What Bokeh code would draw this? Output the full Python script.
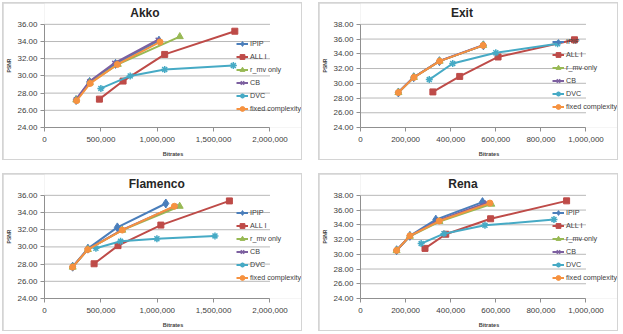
from bokeh.plotting import figure
from bokeh.layouts import row, column
from bokeh.models import FixedTicker, NumeralTickFormatter, Legend, LegendItem, Range1d, Label
from bokeh.embed import file_html
from bokeh.resources import INLINE

# Series shown in every panel
series_names = ["IPIP", "ALL I", "r_mv only", "CB", "DVC", "fixed complexity"]
series_colors = ["#4A7EBB", "#BE4B48", "#98B954", "#7D60A0", "#46AAC5", "#F69240"]
series_markers = ["diamond", "square", "triangle", "x", "asterisk", "circle"]
marker_sizes = [9, 6, 7, 6, 7, 6]

# Akko
akko_ipip_x = [280000, 400000, 630000, 1015000]
akko_ipip_y = [27.2, 29.3, 31.4, 34.1]
akko_alli_x = [487000, 697000, 1066000, 1688000]
akko_alli_y = [27.3, 29.4, 32.5, 35.2]
akko_rmv_x = [282000, 402000, 650000, 1200000]
akko_rmv_y = [27.2, 29.2, 31.35, 34.57]
akko_cb_x = [278000, 398000, 620000, 1005000]
akko_cb_y = [27.25, 29.35, 31.5, 34.2]
akko_dvc_x = [500000, 760000, 1066000, 1675000]
akko_dvc_y = [28.55, 30.0, 30.75, 31.2]
akko_fixed_x = [285000, 405000, 646000, 1025000]
akko_fixed_y = [27.12, 29.13, 31.33, 33.95]

# Exit
exit_ipip_x = [168000, 236000, 350000, 545000]
exit_ipip_y = [28.75, 30.82, 33.0, 35.15]
exit_alli_x = [321000, 440000, 610000, 949000]
exit_alli_y = [28.83, 30.93, 33.57, 35.9]
exit_rmv_x = [168000, 237000, 351000, 544000]
exit_rmv_y = [28.74, 30.8, 33.0, 35.14]
exit_cb_x = [167000, 236000, 350000, 543000]
exit_cb_y = [28.76, 30.81, 33.02, 35.16]
exit_dvc_x = [305000, 409000, 600000, 874000]
exit_dvc_y = [30.5, 32.68, 34.15, 35.36]
exit_fixed_x = [168000, 237000, 351000, 544000]
exit_fixed_y = [28.74, 30.8, 33.0, 35.14]

# Flamenco
flam_ipip_x = [250000, 385000, 646000, 1076000]
flam_ipip_y = [27.7, 29.8, 32.27, 35.05]
flam_alli_x = [440000, 652000, 1032000, 1640000]
flam_alli_y = [28.04, 30.15, 32.54, 35.35]
flam_rmv_x = [250000, 385000, 690000, 1199000]
flam_rmv_y = [27.65, 29.7, 31.95, 34.73]
flam_cb_x = [249000, 384000, 688000, 1160000]
flam_cb_y = [27.66, 29.72, 31.98, 34.75]
flam_dvc_x = [456000, 675000, 997000, 1512000]
flam_dvc_y = [29.85, 30.65, 30.95, 31.28]
flam_fixed_x = [249000, 383000, 690000, 1152000]
flam_fixed_y = [27.65, 29.69, 31.96, 34.73]

# Rena
rena_ipip_x = [160000, 219000, 334000, 541000]
rena_ipip_y = [30.55, 32.5, 34.7, 37.08]
rena_alli_x = [286000, 378000, 577000, 914000]
rena_alli_y = [30.8, 32.72, 34.82, 37.25]
rena_rmv_x = [160000, 219000, 350000, 580000]
rena_rmv_y = [30.5, 32.45, 34.45, 36.8]
rena_cb_x = [160000, 219000, 345000, 560000]
rena_cb_y = [30.52, 32.48, 34.6, 37.0]
rena_dvc_x = [269000, 370000, 552000, 858000]
rena_dvc_y = [31.45, 32.8, 33.93, 34.72]
rena_fixed_x = [160000, 219000, 349000, 574000]
rena_fixed_y = [30.53, 32.5, 34.51, 36.95]

ticks_x_2m = [0, 500000, 1000000, 1500000, 2000000]
ticks_x_1m = [0, 200000, 400000, 600000, 800000, 1000000]
ticks_y_36 = [24, 26, 28, 30, 32, 34, 36]
ticks_y_38 = [24, 26, 28, 30, 32, 34, 36, 38]

FONT = "Liberation Sans"
TEXT = "#404040"
FIG_W, FIG_H = 298, 156      # inside the 1px grey chart border
BORDER_L, BORDER_B = 37, 31
AXIS_W, AXIS_H = 229, 104    # pixel size of the plotted data area
TOP_GAP = 21                 # space above the data area that holds the chart title


def make_panel(title, title_cx, xs, ys, xticks, yticks, legend_y):
    frame_w = FIG_W - BORDER_L
    frame_h = FIG_H - BORDER_B
    x_end = xticks[-1] * frame_w / AXIS_W
    y_span = yticks[-1] - yticks[0]
    y_end = yticks[0] + y_span * frame_h / AXIS_H
    p = figure(width=FIG_W, height=FIG_H, output_backend="svg", toolbar_location=None,
               x_range=Range1d(xticks[0], x_end), y_range=Range1d(yticks[0], y_end),
               min_border_left=BORDER_L, min_border_right=0,
               min_border_top=0, min_border_bottom=BORDER_B, margin=(1, 1, 1, 1))
    p.outline_line_color = None
    p.background_fill_color = "white"
    p.border_fill_color = "white"

    # chart title, centred over the plot area
    p.add_layout(Label(x=xticks[-1] * title_cx / AXIS_W,
                       y=yticks[-1] + y_span * (TOP_GAP - 10) / AXIS_H,
                       text=title, text_align="center", text_baseline="middle",
                       text_font=FONT, text_font_size="12px", text_font_style="bold",
                       text_color="#262626"))

    # horizontal gridlines only across the plotted x span
    p.xgrid.grid_line_color = None
    p.ygrid.grid_line_color = None
    p.segment(x0=[xticks[0]] * len(yticks), y0=yticks, x1=[xticks[-1]] * len(yticks), y1=yticks,
              line_color="#b8b8b8", line_width=1)

    p.xaxis.ticker = FixedTicker(ticks=xticks)
    p.yaxis.ticker = FixedTicker(ticks=yticks)
    p.xaxis.bounds = (xticks[0], xticks[-1])
    p.yaxis.bounds = (yticks[0], yticks[-1])
    p.xaxis.formatter = NumeralTickFormatter(format="0,0")
    p.yaxis.formatter = NumeralTickFormatter(format="0.00")
    for ax in (p.xaxis[0], p.yaxis[0]):
        ax.axis_line_color = "#909090"
        ax.major_tick_line_color = "#909090"
        ax.major_tick_out = 4
        ax.major_tick_in = 0
        ax.minor_tick_line_color = None
        ax.major_label_text_font = FONT
        ax.major_label_text_font_size = "8px"
        ax.major_label_text_color = TEXT
        ax.axis_label_text_font = FONT
        ax.axis_label_text_font_style = "bold"
        ax.axis_label_text_color = TEXT
    p.xaxis.axis_label = "Bitrates"
    p.xaxis.axis_label_text_font_size = "5.5px"
    p.xaxis.axis_label_standoff = 6
    p.xaxis.major_label_standoff = 5
    p.yaxis.axis_label = "PSNR"
    p.yaxis.axis_label_text_font_size = "5px"
    p.yaxis.axis_label_standoff = 2
    p.yaxis.major_label_standoff = 3

    items = []
    for name, color, marker, size, x, y in zip(series_names, series_colors, series_markers,
                                               marker_sizes, xs, ys):
        ln = p.line(x, y, line_color=color, line_width=2)
        sc = p.scatter(x, y, marker=marker, size=size, fill_color=color, line_color=color,
                       line_width=1.5 if marker in ("x", "asterisk") else 1)
        items.append(LegendItem(label=name, renderers=[ln, sc]))

    legend = Legend(items=items, location=(192, legend_y), orientation="vertical",
                    padding=0, margin=0, spacing=0, glyph_width=12, glyph_height=13,
                    label_height=13, label_standoff=2, label_text_font=FONT,
                    label_text_font_size="7.2px", label_text_color=TEXT,
                    background_fill_alpha=0, border_line_color=None)
    p.add_layout(legend, "center")
    return p


def framed(p):
    # grey backing shows through the 1px margin as the chart border
    return column(p, styles={"background-color": "#d4d4d4"})


p_akko = make_panel("Akko", 102,
                    [akko_ipip_x, akko_alli_x, akko_rmv_x, akko_cb_x, akko_dvc_x, akko_fixed_x],
                    [akko_ipip_y, akko_alli_y, akko_rmv_y, akko_cb_y, akko_dvc_y, akko_fixed_y],
                    ticks_x_2m, ticks_y_36, 12)
p_exit = make_panel("Exit", 103,
                    [exit_ipip_x, exit_alli_x, exit_rmv_x, exit_cb_x, exit_dvc_x, exit_fixed_x],
                    [exit_ipip_y, exit_alli_y, exit_rmv_y, exit_cb_y, exit_dvc_y, exit_fixed_y],
                    ticks_x_1m, ticks_y_38, 14)
p_flam = make_panel("Flamenco", 114,
                    [flam_ipip_x, flam_alli_x, flam_rmv_x, flam_cb_x, flam_dvc_x, flam_fixed_x],
                    [flam_ipip_y, flam_alli_y, flam_rmv_y, flam_cb_y, flam_dvc_y, flam_fixed_y],
                    ticks_x_2m, ticks_y_36, 14)
p_rena = make_panel("Rena", 104,
                    [rena_ipip_x, rena_alli_x, rena_rmv_x, rena_cb_x, rena_dvc_x, rena_fixed_x],
                    [rena_ipip_y, rena_alli_y, rena_rmv_y, rena_cb_y, rena_dvc_y, rena_fixed_y],
                    ticks_x_1m, ticks_y_38, 14)

layout = column(row(framed(p_akko), framed(p_exit), spacing=16),
                row(framed(p_flam), framed(p_rena), spacing=16),
                spacing=13, margin=(2, 0, 0, 2))

open("out.html", "w").write(file_html(layout, INLINE))
